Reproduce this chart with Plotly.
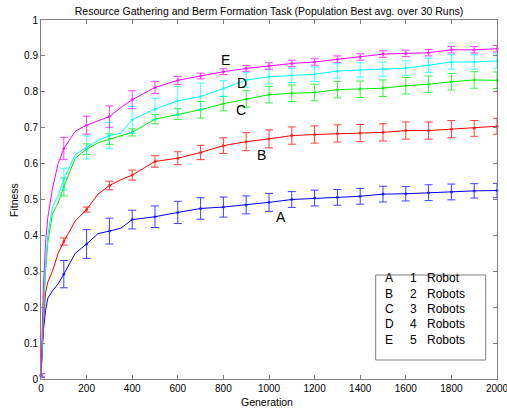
import plotly.graph_objects as go

# Generations sampled for the lines
gens = [0, 5, 10, 20, 30, 50, 75, 100, 150, 200, 250, 300, 350, 400, 500, 600, 700,
        800, 900, 1000, 1100, 1200, 1300, 1400, 1500, 1600, 1700, 1800, 1900, 2000]

fit_a = [0.01, 0.07, 0.13, 0.19, 0.225, 0.245, 0.265, 0.292, 0.35, 0.376, 0.405, 0.412, 0.42, 0.444,
         0.452, 0.464, 0.475, 0.479, 0.485, 0.492, 0.50, 0.504, 0.506, 0.509, 0.515, 0.516, 0.519,
         0.521, 0.524, 0.525]
fit_b = [0.01, 0.08, 0.15, 0.24, 0.27, 0.30, 0.35, 0.383, 0.44, 0.472, 0.515, 0.539, 0.555, 0.568,
         0.606, 0.615, 0.631, 0.65, 0.661, 0.669, 0.678, 0.681, 0.684, 0.685, 0.687, 0.692, 0.692,
         0.696, 0.698, 0.704]
fit_c = [0.01, 0.09, 0.18, 0.30, 0.38, 0.46, 0.49, 0.535, 0.615, 0.64, 0.658, 0.668, 0.677, 0.687,
         0.724, 0.738, 0.75, 0.767, 0.78, 0.792, 0.796, 0.798, 0.806, 0.807, 0.81, 0.817, 0.821,
         0.828, 0.833, 0.832]
fit_d = [0.01, 0.10, 0.20, 0.32, 0.40, 0.48, 0.51, 0.557, 0.625, 0.645, 0.665, 0.678, 0.685, 0.722,
         0.752, 0.775, 0.787, 0.809, 0.833, 0.842, 0.846, 0.849, 0.858, 0.861, 0.863, 0.866, 0.874,
         0.883, 0.883, 0.886]
fit_e = [0.01, 0.12, 0.25, 0.38, 0.45, 0.53, 0.60, 0.642, 0.69, 0.707, 0.72, 0.731, 0.756, 0.778,
         0.812, 0.832, 0.844, 0.856, 0.865, 0.872, 0.879, 0.883, 0.891, 0.897, 0.905, 0.907, 0.909,
         0.917, 0.917, 0.92]

# Error bars every 100 generations
bar_gens = [0, 100, 200, 300, 400, 500, 600, 700, 800, 900, 1000,
            1100, 1200, 1300, 1400, 1500, 1600, 1700, 1800, 1900, 2000]
err_a = [0.005, 0.038, 0.04, 0.036, 0.026, 0.03, 0.031, 0.03, 0.028, 0.025, 0.025,
         0.022, 0.022, 0.022, 0.022, 0.022, 0.02, 0.022, 0.022, 0.02, 0.02]
err_b = [0.005, 0.01, 0.007, 0.012, 0.014, 0.016, 0.018, 0.02, 0.022, 0.025, 0.025,
         0.024, 0.024, 0.024, 0.024, 0.024, 0.024, 0.024, 0.024, 0.022, 0.022]
err_c = [0.005, 0.025, 0.015, 0.015, 0.01, 0.013, 0.015, 0.023, 0.02, 0.023, 0.023,
         0.023, 0.023, 0.023, 0.023, 0.023, 0.023, 0.023, 0.023, 0.023, 0.023]
err_d = [0.005, 0.03, 0.032, 0.037, 0.037, 0.03, 0.04, 0.037, 0.022, 0.02, 0.02,
         0.02, 0.02, 0.02, 0.02, 0.02, 0.02, 0.02, 0.02, 0.02, 0.02]
err_e = [0.005, 0.031, 0.025, 0.03, 0.025, 0.017, 0.011, 0.008, 0.008, 0.008, 0.009,
         0.009, 0.009, 0.009, 0.009, 0.009, 0.009, 0.009, 0.009, 0.009, 0.009]

series_labels = ["A", "B", "C", "D", "E"]
legend_counts = ["1", "2", "3", "4", "5"]
legend_names = ["Robot", "Robots", "Robots", "Robots", "Robots"]
colors = ["#0000ff", "#ff0000", "#00ee00", "#00ffff", "#ff00ff"]
# Label positions (data coords) next to curves
label_x = [1053, 968, 877, 880, 811]
label_y = [0.452, 0.624, 0.748, 0.824, 0.889]

fits = [fit_a, fit_b, fit_c, fit_d, fit_e]
errs = [err_a, err_b, err_c, err_d, err_e]

font_fam = "Liberation Sans, Arial, sans-serif"
fig = go.Figure()
for fit, err, col in zip(fits, errs, colors):
    fig.add_trace(go.Scatter(x=gens, y=fit, mode="lines",
                             line=dict(color=col, width=1), showlegend=False))
    ymeans = [fit[gens.index(g)] for g in bar_gens]
    fig.add_trace(go.Scatter(x=bar_gens, y=ymeans, mode="markers",
                             marker=dict(color=col, size=3),
                             error_y=dict(type="data", array=err, color=col,
                                          thickness=1, width=4),
                             opacity=0.75, showlegend=False, cliponaxis=False))

for lab, lx, ly in zip(series_labels, label_x, label_y):
    fig.add_annotation(x=lx, y=ly, xref="x", yref="y", text=lab, showarrow=False,
                       font=dict(family=font_fam, size=14, color="black"))

# Plot area spans window px x 41..497, y 20..379
PW, PH = 456, 359
X0, Y1 = 41, 379


def px(x):
    return (x - X0) / PW


def py(y):
    return (Y1 - y) / PH


# Legend box
fig.add_shape(type="rect", xref="paper", yref="paper",
              x0=px(375.7), x1=px(485.7), y0=py(360), y1=py(275),
              line=dict(color="#7f7f7f", width=1), fillcolor="white", layer="above")
for i, (lab, cnt, nm) in enumerate(zip(series_labels, legend_counts, legend_names)):
    yp = py(287.3 + i * 15.35)
    fig.add_annotation(x=px(389), y=yp, xref="paper", yref="paper", text=lab,
                       showarrow=False, xanchor="center",
                       font=dict(family=font_fam, size=12, color="black"))
    fig.add_annotation(x=px(413), y=yp, xref="paper", yref="paper", text=cnt,
                       showarrow=False, xanchor="center",
                       font=dict(family=font_fam, size=12, color="black"))
    fig.add_annotation(x=px(425), y=yp, xref="paper", yref="paper", text=nm,
                       showarrow=False, xanchor="left",
                       font=dict(family=font_fam, size=12, color="black"))

# Axis titles
fig.add_annotation(x=px(267), y=py(402), xref="paper", yref="paper",
                   text="Generation", showarrow=False, yanchor="middle",
                   font=dict(family=font_fam, size=10.5, color="black"))
fig.add_annotation(x=px(14), y=py(200), xref="paper", yref="paper",
                   text="Fitness", showarrow=False, textangle=-90, xanchor="center",
                   yanchor="middle", font=dict(family=font_fam, size=10.5, color="black"))

axis_common = dict(showline=True, mirror="ticks", linecolor="#808080", linewidth=1,
                   ticks="inside", ticklen=4, tickcolor="#808080", showgrid=False,
                   zeroline=False, automargin=False, ticklabeloverflow="allow",
                   tickfont=dict(family=font_fam, size=10, color="black"))

W, H = 507, 411
fig.update_layout(
    width=W, height=H,
    margin=dict(l=41, r=10, t=20, b=32),
    paper_bgcolor="white", plot_bgcolor="white",
    title=dict(text="Resource Gathering and Berm Formation Task (Population Best avg. over 30 Runs)",
               x=269 / W, xanchor="center", y=1 - 11 / H, yanchor="middle",
               font=dict(family=font_fam, size=10.5, color="black")),
    xaxis=dict(range=[0, 2000], tickvals=list(range(0, 2001, 200)), **axis_common),
    yaxis=dict(range=[0, 1], tickvals=[i / 10 for i in range(11)],
               ticktext=["0", "0.1", "0.2", "0.3", "0.4", "0.5", "0.6", "0.7", "0.8", "0.9", "1"],
               **axis_common),
)

fig.write_html("out.html", config={"displayModeBar": False},
               post_script="document.body.style.margin='0px';document.body.style.overflow='hidden';")
